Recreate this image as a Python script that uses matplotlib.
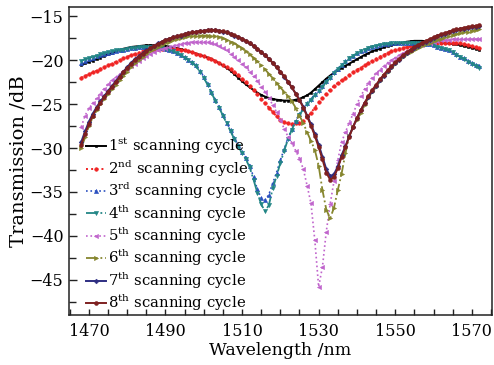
import numpy as np
import matplotlib
matplotlib.use("Agg")
import matplotlib.pyplot as plt
from matplotlib.ticker import MultipleLocator, FixedLocator

plt.rcParams["font.family"] = ["DejaVu Serif"]
plt.rcParams["mathtext.fontset"] = "dejavuserif"

# Wavelength grid, 1 nm step (1468 ... 1572 nm)
wavelength = np.arange(1468, 1573)
x_ticks = [1470, 1490, 1510, 1530, 1550, 1570]

cycle_1 = [
    -20.55, -20.35, -20.2, -20.05, -19.9, -19.7, -19.5, -19.35, -19.2, -19.0,
    -18.85, -18.7, -18.6, -18.5, -18.45, -18.4, -18.35, -18.3, -18.3, -18.3,
    -18.3, -18.35, -18.4, -18.45, -18.55, -18.65, -18.75, -18.85, -19.0, -19.1,
    -19.25, -19.4, -19.55, -19.7, -19.85, -20.1, -20.35, -20.6, -20.9, -21.2,
    -21.6, -22.0, -22.4, -22.75, -23.1, -23.4, -23.7, -23.95, -24.15, -24.3,
    -24.4, -24.5, -24.55, -24.6, -24.6, -24.6, -24.5, -24.4, -24.2, -24.0,
    -23.7, -23.3, -22.9, -22.5, -22.1, -21.75, -21.45, -21.15, -20.9, -20.65,
    -20.4, -20.15, -19.9, -19.65, -19.4, -19.2, -19.0, -18.85, -18.7, -18.55,
    -18.4, -18.3, -18.2, -18.1, -18.0, -17.9, -17.85, -17.8, -17.8, -17.8,
    -17.85, -17.9, -17.9, -17.95, -18.0, -18.05, -18.1, -18.15, -18.2, -18.3,
    -18.4, -18.5, -18.6, -18.7, -18.8,
]

cycle_2 = [
    -22.0, -21.8, -21.6, -21.4, -21.2, -21.0, -20.8, -20.6, -20.4, -20.2,
    -20.0, -19.8, -19.6, -19.45, -19.3, -19.15, -19.0, -18.9, -18.85, -18.8,
    -18.75, -18.7, -18.7, -18.7, -18.7, -18.75, -18.8, -18.9, -19.0, -19.1,
    -19.25, -19.4, -19.55, -19.7, -19.9, -20.1, -20.3, -20.55, -20.8, -21.05,
    -21.35, -21.7, -22.1, -22.5, -22.95, -23.4, -23.9, -24.4, -24.9, -25.4,
    -25.9, -26.4, -26.8, -27.05, -27.2, -27.25, -27.2, -27.1, -26.9, -26.5,
    -26.0, -25.4, -24.8, -24.3, -23.8, -23.35, -22.95, -22.6, -22.3, -22.0,
    -21.7, -21.4, -21.1, -20.85, -20.6, -20.35, -20.1, -19.85, -19.6, -19.4,
    -19.2, -19.0, -18.85, -18.7, -18.6, -18.5, -18.4, -18.3, -18.2, -18.15,
    -18.1, -18.05, -18.0, -18.0, -18.0, -18.0, -18.0, -18.05, -18.05, -18.1,
    -18.2, -18.3, -18.4, -18.5, -18.6,
]

cycle_3 = [
    -20.3, -20.05, -19.9, -19.7, -19.55, -19.4, -19.25, -19.15, -19.05, -18.95,
    -18.9, -18.8, -18.75, -18.65, -18.6, -18.55, -18.5, -18.5, -18.5, -18.5,
    -18.55, -18.6, -18.7, -18.85, -19.0, -19.2, -19.4, -19.65, -19.95, -20.25,
    -20.6, -21.2, -21.9, -22.7, -23.6, -24.5, -25.3, -26.2, -27.1, -28.0,
    -28.9, -29.7, -30.4, -31.1, -32.0, -33.3, -34.7, -35.7, -35.9, -35.3,
    -34.0, -32.8, -31.4, -30.1, -28.9, -27.8, -26.9, -26.1, -25.5, -24.9,
    -24.4, -23.9, -23.4, -22.9, -22.4, -21.9, -21.4, -20.95, -20.55, -20.15,
    -19.8, -19.5, -19.2, -19.0, -18.8, -18.6, -18.45, -18.35, -18.25, -18.2,
    -18.15, -18.1, -18.1, -18.05, -18.05, -18.05, -18.05, -18.05, -18.1, -18.1,
    -18.15, -18.2, -18.3, -18.45, -18.6, -18.75, -18.9, -19.1, -19.35, -19.6,
    -19.8, -20.05, -20.3, -20.5, -20.7,
]

cycle_4 = [
    -20.1, -19.9, -19.8, -19.6, -19.5, -19.35, -19.2, -19.1, -19.0, -18.9,
    -18.85, -18.8, -18.7, -18.65, -18.6, -18.55, -18.5, -18.5, -18.5, -18.5,
    -18.55, -18.6, -18.7, -18.85, -19.0, -19.2, -19.45, -19.7, -20.0, -20.3,
    -20.7, -21.3, -22.0, -22.8, -23.7, -24.6, -25.4, -26.3, -27.2, -28.1,
    -29.0, -29.8, -30.6, -31.3, -32.2, -33.6, -35.1, -36.4, -37.2, -36.5,
    -34.6, -33.2, -31.7, -30.3, -29.0, -27.9, -27.0, -26.2, -25.6, -25.0,
    -24.5, -24.0, -23.5, -23.0, -22.5, -22.0, -21.5, -21.0, -20.6, -20.2,
    -19.8, -19.5, -19.2, -19.0, -18.8, -18.6, -18.45, -18.35, -18.25, -18.2,
    -18.15, -18.1, -18.1, -18.05, -18.05, -18.05, -18.05, -18.05, -18.1, -18.1,
    -18.15, -18.2, -18.3, -18.45, -18.6, -18.75, -18.9, -19.1, -19.4, -19.65,
    -19.9, -20.2, -20.4, -20.65, -20.9,
]

cycle_5 = [
    -27.6, -26.3, -25.5, -24.9, -24.35, -23.8, -23.25, -22.75, -22.3, -21.95,
    -21.6, -21.25, -20.95, -20.65, -20.4, -20.1, -19.8, -19.5, -19.3, -19.1,
    -18.9, -18.75, -18.6, -18.5, -18.35, -18.25, -18.15, -18.05, -18.0, -17.95,
    -17.9, -17.9, -17.9, -17.95, -18.05, -18.2, -18.4, -18.65, -18.9, -19.25,
    -19.6, -20.0, -20.4, -20.8, -21.3, -21.85, -22.4, -23.0, -23.6, -24.3,
    -25.1, -25.9, -26.8, -27.8, -28.7, -29.4, -30.3, -31.2, -32.4, -34.3,
    -36.3, -40.5, -45.8, -43.5, -39.5, -36.4, -33.8, -31.4, -29.3, -28.2,
    -27.1, -26.1, -25.0, -24.1, -23.3, -22.6, -22.0, -21.5, -21.1, -20.7,
    -20.3, -20.0, -19.7, -19.45, -19.2, -19.0, -18.8, -18.6, -18.4, -18.25,
    -18.1, -18.0, -17.9, -17.8, -17.75, -17.7, -17.65, -17.6, -17.6, -17.6,
    -17.6, -17.6, -17.6, -17.6, -17.6,
]

cycle_6 = [
    -30.0, -28.8, -27.5, -26.5, -25.7, -25.0, -24.4, -23.8, -23.3, -22.8,
    -22.3, -21.8, -21.3, -20.8, -20.35, -19.95, -19.6, -19.3, -19.0, -18.75,
    -18.5, -18.3, -18.1, -17.9, -17.75, -17.6, -17.45, -17.35, -17.3, -17.25,
    -17.2, -17.2, -17.2, -17.2, -17.2, -17.25, -17.35, -17.5, -17.7, -17.9,
    -18.1, -18.35, -18.65, -19.0, -19.35, -19.75, -20.15, -20.6, -21.05, -21.55,
    -22.05, -22.6, -23.1, -23.6, -24.1, -24.7, -25.4, -26.3, -27.2, -28.2,
    -29.2, -30.2, -32.0, -34.8, -37.0, -38.0, -36.8, -34.8, -32.9, -30.6,
    -28.6, -27.6, -26.8, -26.0, -25.1, -24.3, -23.6, -23.0, -22.4, -21.8,
    -21.3, -20.85, -20.4, -20.0, -19.65, -19.35, -19.1, -18.85, -18.6, -18.4,
    -18.2, -18.0, -17.85, -17.7, -17.55, -17.4, -17.25, -17.15, -17.05, -16.95,
    -16.85, -16.75, -16.65, -16.55, -16.5,
]

cycle_7 = [
    -29.3, -28.1, -27.0, -26.1, -25.35, -24.7, -24.1, -23.5, -22.95, -22.4,
    -21.85, -21.3, -20.8, -20.3, -19.9, -19.55, -19.2, -18.9, -18.6, -18.35,
    -18.1, -17.9, -17.7, -17.55, -17.4, -17.3, -17.2, -17.05, -16.95, -16.85,
    -16.8, -16.7, -16.65, -16.6, -16.6, -16.6, -16.65, -16.75, -16.85, -17.0,
    -17.2, -17.4, -17.6, -17.85, -18.1, -18.4, -18.75, -19.1, -19.45, -19.85,
    -20.3, -20.8, -21.35, -21.9, -22.5, -23.1, -23.8, -24.5, -25.3, -26.3,
    -27.3, -28.4, -29.6, -31.0, -32.4, -33.2, -33.0, -32.1, -30.8, -29.8,
    -28.6, -27.6, -26.6, -25.7, -24.9, -24.2, -23.5, -22.9, -22.3, -21.75,
    -21.25, -20.8, -20.35, -19.95, -19.55, -19.2, -18.9, -18.6, -18.35, -18.1,
    -17.9, -17.7, -17.5, -17.3, -17.15, -17.0, -16.85, -16.7, -16.6, -16.5,
    -16.4, -16.3, -16.25, -16.2, -16.1,
]

cycle_8 = [
    -29.6, -28.4, -27.25, -26.3, -25.5, -24.85, -24.2, -23.6, -23.05, -22.5,
    -21.95, -21.4, -20.9, -20.4, -20.0, -19.6, -19.25, -18.95, -18.65, -18.4,
    -18.15, -17.95, -17.75, -17.55, -17.4, -17.3, -17.15, -17.05, -16.95, -16.85,
    -16.75, -16.7, -16.65, -16.6, -16.6, -16.6, -16.65, -16.7, -16.85, -17.0,
    -17.15, -17.35, -17.55, -17.8, -18.05, -18.35, -18.7, -19.05, -19.45, -19.85,
    -20.3, -20.8, -21.3, -21.85, -22.45, -23.1, -23.8, -24.55, -25.4, -26.4,
    -27.45, -28.6, -29.9, -31.3, -32.8, -33.6, -33.3, -32.3, -31.0, -29.9,
    -28.7, -27.6, -26.6, -25.7, -24.85, -24.1, -23.4, -22.8, -22.2, -21.65,
    -21.15, -20.7, -20.25, -19.85, -19.45, -19.1, -18.8, -18.5, -18.25, -18.0,
    -17.8, -17.6, -17.4, -17.2, -17.05, -16.9, -16.75, -16.6, -16.5, -16.4,
    -16.3, -16.2, -16.15, -16.1, -16.0,
]

labels = [
    r"1$^{\mathrm{st}}$ scanning cycle",
    r"2$^{\mathrm{nd}}$ scanning cycle",
    r"3$^{\mathrm{rd}}$ scanning cycle",
    r"4$^{\mathrm{th}}$ scanning cycle",
    r"5$^{\mathrm{th}}$ scanning cycle",
    r"6$^{\mathrm{th}}$ scanning cycle",
    r"7$^{\mathrm{th}}$ scanning cycle",
    r"8$^{\mathrm{th}}$ scanning cycle",
]

series = [cycle_1, cycle_2, cycle_3, cycle_4, cycle_5, cycle_6, cycle_7, cycle_8]

styles = [
    dict(color="#000000", ls="-", marker="s", ms=2.0, lw=1.4),
    dict(color="#f02424", ls=":", marker="o", ms=2.6, lw=1.4),
    dict(color="#2a4fc0", ls=":", marker="^", ms=3.0, lw=1.2),
    dict(color="#238686", ls="-.", marker="v", ms=3.0, lw=1.3),
    dict(color="#c064cc", ls=":", marker="<", ms=3.0, lw=1.2),
    dict(color="#86862e", ls="-.", marker=">", ms=3.0, lw=1.3),
    dict(color="#2e2e82", ls="-", marker="D", ms=2.4, lw=1.4),
    dict(color="#7e2020", ls="-", marker="o", ms=2.8, lw=1.4),
]

fig = plt.figure(figsize=(4.94, 3.65), dpi=100)
ax = fig.add_axes([69 / 494, 50 / 365, 422.7 / 494, 308 / 365])

for y, lab, st in zip(series, labels, styles):
    ax.plot(wavelength, y, label=lab, color=st["color"], ls=st["ls"],
            lw=st["lw"], marker=st["marker"], ms=st["ms"],
            markeredgewidth=0.4, markeredgecolor=st["color"])

ax.set_xlim(1464.8, 1575.2)
ax.set_ylim(-49.0, -13.95)
ax.xaxis.set_major_locator(FixedLocator(x_ticks))
ax.xaxis.set_minor_locator(MultipleLocator(5))
ax.yaxis.set_major_locator(MultipleLocator(5))
ax.yaxis.set_minor_locator(MultipleLocator(2.5))

ax.tick_params(which="both", direction="in", top=False, right=False,
               labelsize=11.5, color="#222222", width=1.0)
ax.tick_params(axis="x", which="major", length=4.5, pad=6)
ax.tick_params(axis="x", which="minor", length=4.5)
ax.tick_params(axis="y", which="major", length=6, pad=4)
ax.tick_params(axis="y", which="minor", length=5)
for sp in ax.spines.values():
    sp.set_linewidth(1.1)
    sp.set_color("#222222")

ax.set_xlabel("Wavelength /nm", fontsize=12.5)
ax.set_ylabel("Transmission /dB", fontsize=14)
ax.xaxis.set_label_coords(0.5, -0.088)
ax.yaxis.set_label_coords(-0.098, 0.5)

ax.legend(loc="lower left", bbox_to_anchor=(0.040, 0.006), frameon=False,
          fontsize=10.7, handlelength=1.35, handletextpad=0.15,
          labelspacing=0.14, numpoints=1, borderpad=0.0, borderaxespad=0.0)

fig.savefig("out.png", dpi=100)
